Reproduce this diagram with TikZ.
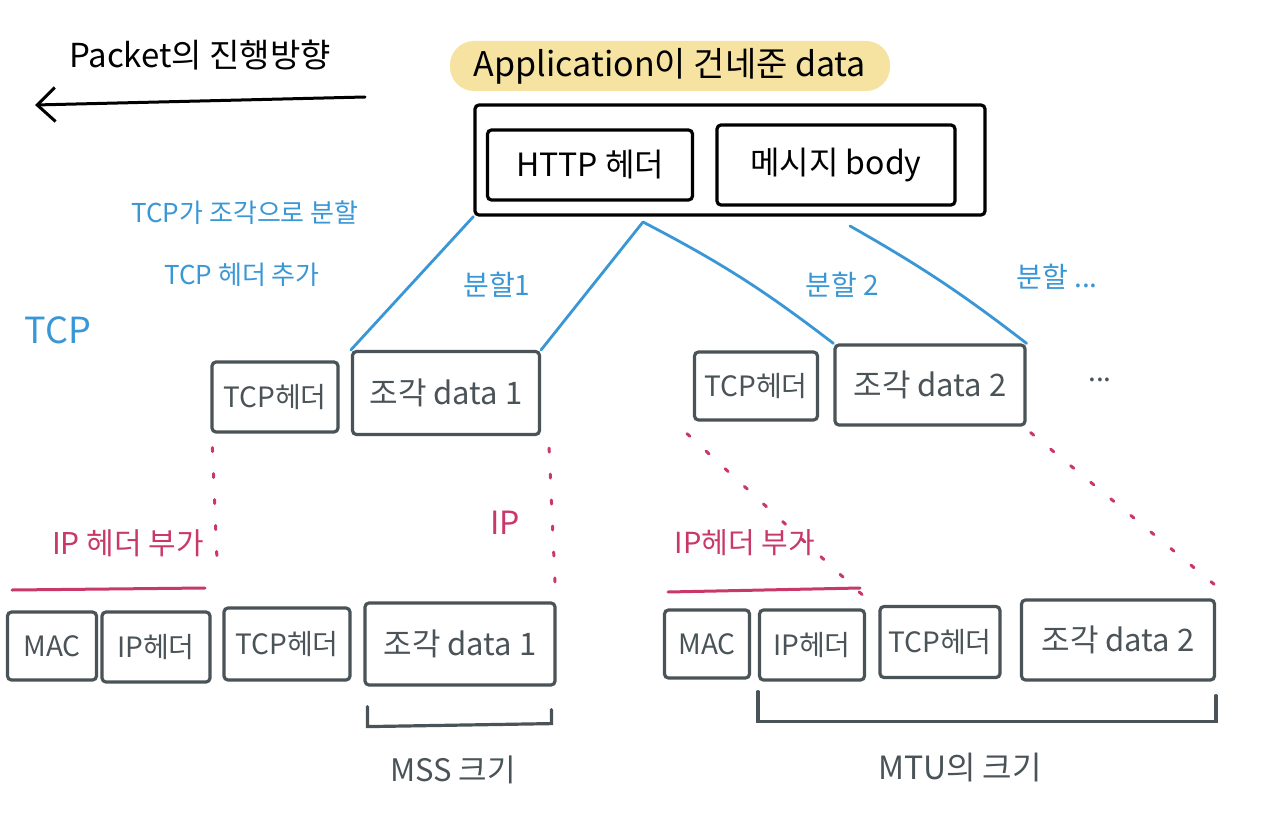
\documentclass[tikz,border=0pt]{standalone}
\usepackage{fontspec}
\setmainfont{Noto Sans CJK KR}
\usepackage{tikz}
\usetikzlibrary{arrows.meta}
\usetikzlibrary{positioning}
\definecolor{pen}{HTML}{4A5357}
\definecolor{bluepen}{HTML}{3A97D6}
\definecolor{redpen}{HTML}{C9386A}
\definecolor{marker}{HTML}{F6E3A2}
\tikzstyle{box}=[draw=pen, line width=1.6pt, rounded corners=2pt, inner sep=0pt, font=\fontsize{14}{16}\selectfont, text=pen]
\tikzstyle{databox}=[box, font=\fontsize{15.5}{17}\selectfont]
\tikzstyle{topbox}=[box, draw=black, text=black, font=\fontsize{16}{18}\selectfont]
\tikzstyle{split}=[draw=bluepen, line width=1.4pt, line cap=round]
\tikzstyle{ipdots}=[draw=redpen, line width=1.5pt, line cap=round, dash pattern=on 2pt off 11pt]
\tikzstyle{bluetext}=[text=bluepen, font=\fontsize{13}{15}\selectfont]
\tikzstyle{redtext}=[text=redpen, font=\fontsize{14.5}{16}\selectfont]

\begin{document}
\begin{tikzpicture}[x=0.5pt, y=-0.5pt]
          \useasboundingbox[fill=white] (0,0) rectangle (1268,813);
          % packet direction
          \node[font=\fontsize{16.5}{18}\selectfont] (dir) at (200,55){Packet의 진행방향};
          \coordinate (dirR) at (365,97);
          \coordinate (dirL) at (35,105);
          \draw[line width=1.5pt, line cap=round, -{Straight Barb[length=9pt,width=17pt,line width=1.5pt]}](dirR) -- (dirL);
          % application data
          \node[fill=marker, rounded corners=12pt, minimum width=220pt, minimum height=25pt, font=\fontsize{17}{19}\selectfont] (app) at (670,66){Application이 건네준 data};
          \node[topbox, minimum width=255pt, minimum height=55pt] (appdata) at (730,160){};
          \node[topbox, minimum width=102.5pt, minimum height=35pt] (http) at (590,165){HTTP 헤더};
          \node[topbox, minimum width=119pt, minimum height=40pt] (body) at (836,165){메시지 body};
          % TCP
          \node[bluetext] (tcpnote1) at (245,213){TCP가 조각으로 분할};
          \node[bluetext] (tcpnote2) at (242,275){TCP 헤더 추가};
          \node[bluetext, font=\fontsize{18}{20}\selectfont] (tcp) at (58,330){TCP};
          \node[bluetext, font=\fontsize{14}{16}\selectfont] (cut1) at (497,285){분할1};
          \node[bluetext, font=\fontsize{14}{16}\selectfont] (cut2) at (842,285){분할 2};
          \node[bluetext, font=\fontsize{14}{16}\selectfont] (cut3) at (1057,277){분할 ...};
          \node[box, minimum width=63pt, minimum height=35pt] (tcph1) at (275,397){TCP헤더};
          \node[databox, minimum width=93.5pt, minimum height=41.5pt] (data1) at (446,393){조각 data 1};
          \node[box, minimum width=61.5pt, minimum height=34pt] (tcph2) at (756,386){TCP헤더};
          \node[databox, minimum width=95pt, minimum height=40pt] (data2) at (930,385){조각 data 2};
          \node[text=pen, font=\fontsize{14}{16}\selectfont] (more) at (1100,380){...};
          \coordinate (sp1) at (643,222);
          \coordinate (sp2) at (850,226);
          \draw[split](appdata.south west) -- (data1.north west);
          \draw[split](sp1) -- (data1.north east);
          \draw[split](sp1) to[bend left=5] (data2.north west);
          \draw[split](sp2) to[bend left=4] (data2.north east);
          % IP
          \node[redtext, font=\fontsize{15}{17}\selectfont] (ipnote1) at (128,543){IP 헤더 부가};
          \node[redtext, font=\fontsize{16}{18}\selectfont] (ip) at (505,523){IP};
          \node[redtext] (ipnote2) at (745,543){IP헤더 부가};
          \coordinate (ul1a) at (12,590);
          \coordinate (ul1b) at (205,588);
          \coordinate (ul2a) at (668,592);
          \coordinate (ul2b) at (860,588);
          \draw[draw=redpen, line width=1.5pt, line cap=round](ul1a) -- (ul1b);
          \draw[draw=redpen, line width=1.5pt, line cap=round](ul2a) -- (ul2b);
          \node[box, minimum width=44.5pt, minimum height=34pt] (mac1) at (52,646){MAC};
          \node[box, minimum width=54pt, minimum height=35pt] (iph1) at (156,647){IP헤더};
          \node[box, minimum width=63pt, minimum height=36pt] (tcph3) at (287,644){TCP헤더};
          \node[databox, minimum width=95pt, minimum height=41pt] (data3) at (460,644){조각 data 1};
          \node[box, minimum width=42.5pt, minimum height=34pt] (mac2) at (707,644){MAC};
          \node[box, minimum width=52.5pt, minimum height=35pt] (iph2) at (812,645){IP헤더};
          \node[box, minimum width=60pt, minimum height=35.5pt] (tcph4) at (940,642){TCP헤더};
          \node[databox, minimum width=96.5pt, minimum height=40pt] (data4) at (1118,640){조각 data 2};
          \coordinate (dot1) at (217,560);
          \coordinate (dot2) at (555,582);
          \coordinate (dot3) at (868,600);
          \coordinate (dot4) at (1215,585);
          \draw[ipdots]([xshift=1pt,yshift=-7pt]tcph1.south west) -- (dot1);
          \draw[ipdots]([xshift=4pt,yshift=-6pt]data1.south east) -- (dot2);
          \draw[ipdots]([xshift=-3pt,yshift=-6pt]tcph2.south west) -- (dot3);
          \draw[ipdots]([xshift=2pt,yshift=-3pt]data2.south east) -- (dot4);
          % sizes
          \draw[draw=pen, line width=1.6pt, line cap=round]([xshift=2pt,yshift=-10pt]data3.south west) -- ++(0,20) -- ++(184,-3) -- ++(0,-14);
          \draw[draw=pen, line width=1.6pt, line cap=round]([yshift=-5pt]iph2.south west) -- ++(0,30) -- ++(458,0) -- ++(0,-26);
          \node[text=pen, font=\fontsize{15.5}{17}\selectfont] (mss) at (453,770){MSS 크기};
          \node[text=pen, font=\fontsize{16}{18}\selectfont] (mtu) at (960,768){MTU의 크기};
        \end{tikzpicture}
\end{document}
